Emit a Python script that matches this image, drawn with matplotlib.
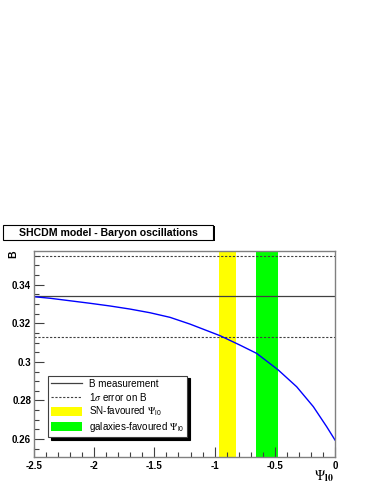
import numpy as np
import matplotlib
matplotlib.use("Agg")
import matplotlib.pyplot as plt
from matplotlib.lines import Line2D
from matplotlib.patches import Patch, Rectangle
from matplotlib.ticker import MultipleLocator

plt.rcParams['font.family'] = ['Liberation Sans', 'DejaVu Sans']
plt.rcParams['mathtext.fontset'] = 'stix'

# model curve B(Psi_l0)
psi = [-2.5, -2.367, -2.201, -2.035, -1.869, -1.703, -1.537, -1.370, -1.204,
       -0.955, -0.789, -0.650, -0.471, -0.318, -0.180, -0.069, 0.0]
B_model = [0.3338, 0.3330, 0.3317, 0.3304, 0.3290, 0.3274, 0.3255, 0.3231, 0.3196,
           0.3136, 0.3087, 0.3044, 0.2958, 0.2871, 0.2768, 0.2664, 0.2595]

B_meas = 0.334
B_err = 0.021

sn_band = [-0.963, -0.825]
gal_band = [-0.654, -0.473]

fig = plt.figure(figsize=(3.74, 4.84), dpi=100)
ax = fig.add_axes([0.0909, 0.0558, 0.8048, 0.4256])

ax.axvspan(sn_band[0], sn_band[1], color='#ffff00', lw=0)
ax.axvspan(gal_band[0], gal_band[1], color='#00ff00', lw=0)
ax.axhline(B_meas, color='#404040', lw=0.9)
ax.axhline(B_meas + B_err, color='#404040', lw=0.8, ls=(0, (2, 1.5)))
ax.axhline(B_meas - B_err, color='#404040', lw=0.8, ls=(0, (2, 1.5)))
ax.plot(psi, B_model, color='#0000ff', lw=1.0)

ax.set_xlim(-2.5, 0)
ax.set_ylim(0.2507, 0.3575)
ax.xaxis.set_minor_locator(MultipleLocator(0.1))
ax.yaxis.set_minor_locator(MultipleLocator(0.005))
ax.tick_params(which='both', direction='in', top=False, right=False, color='#404040')
ax.tick_params(which='major', length=7, width=0.8)
ax.tick_params(which='minor', length=3.5, width=0.8)
for s in ax.spines.values():
    s.set_color('#808080')
    s.set_linewidth(1.0)

xt = [-2.5, -2, -1.5, -1, -0.5, 0]
ax.set_xticks(xt)
ax.set_xticklabels(['-2.5', '-2', '-1.5', '-1', '-0.5', '0'], fontsize=7, fontweight='bold')
yt = [0.26, 0.28, 0.3, 0.32, 0.34]
ax.set_yticks(yt)
ax.set_yticklabels(['0.26', '0.28', '0.3', '0.32', '0.34'], fontsize=7, fontweight='bold')
ax.tick_params(axis='x', pad=3)
ax.tick_params(axis='y', pad=2)

fig.text(0.035, 0.474, 'B', rotation=90, fontsize=7.5, fontweight='bold', ha='center', va='center')
fig.text(0.866, 0.017, r'$\Psi_{\mathregular{\bf l0}}$', fontsize=10, ha='center', va='center')

# title box with shadow
fig.patches.append(Rectangle((0.0126, 0.5019), 0.5615, 0.031, transform=fig.transFigure,
                             facecolor='black', edgecolor='black', lw=0))
fig.patches.append(Rectangle((0.0088, 0.5041), 0.5615, 0.031, transform=fig.transFigure,
                             facecolor='white', edgecolor='black', lw=0.8))
fig.text(0.29, 0.5196, 'SHCDM model - Baryon oscillations', fontsize=7.6, fontweight='bold',
         ha='center', va='center')

handles = [Line2D([], [], color='#404040', lw=0.9),
           Line2D([], [], color='#404040', lw=0.8, ls=(0, (2, 1.5))),
           Patch(facecolor='#ffff00', edgecolor='none'),
           Patch(facecolor='#00ff00', edgecolor='none')]
labels = ['B measurement', r'1$\sigma$ error on B',
          r'SN-favoured $\Psi_{\mathregular{l0}}$', r'galaxies-favoured $\Psi_{\mathregular{l0}}$']
leg = ax.legend(handles, labels, loc='lower left', bbox_to_anchor=(0.047, 0.097),
                fontsize=7.1, frameon=True, fancybox=False, framealpha=1,
                edgecolor='#404040', borderpad=0.3, labelspacing=0.2,
                handlelength=3.1, handleheight=1.0, handletextpad=0.75, borderaxespad=0,
                shadow={'color': 'black', 'alpha': 1, 'ox': 2, 'oy': -2})
leg.get_frame().set_linewidth(0.8)

fig.savefig('out.png', dpi=100)
